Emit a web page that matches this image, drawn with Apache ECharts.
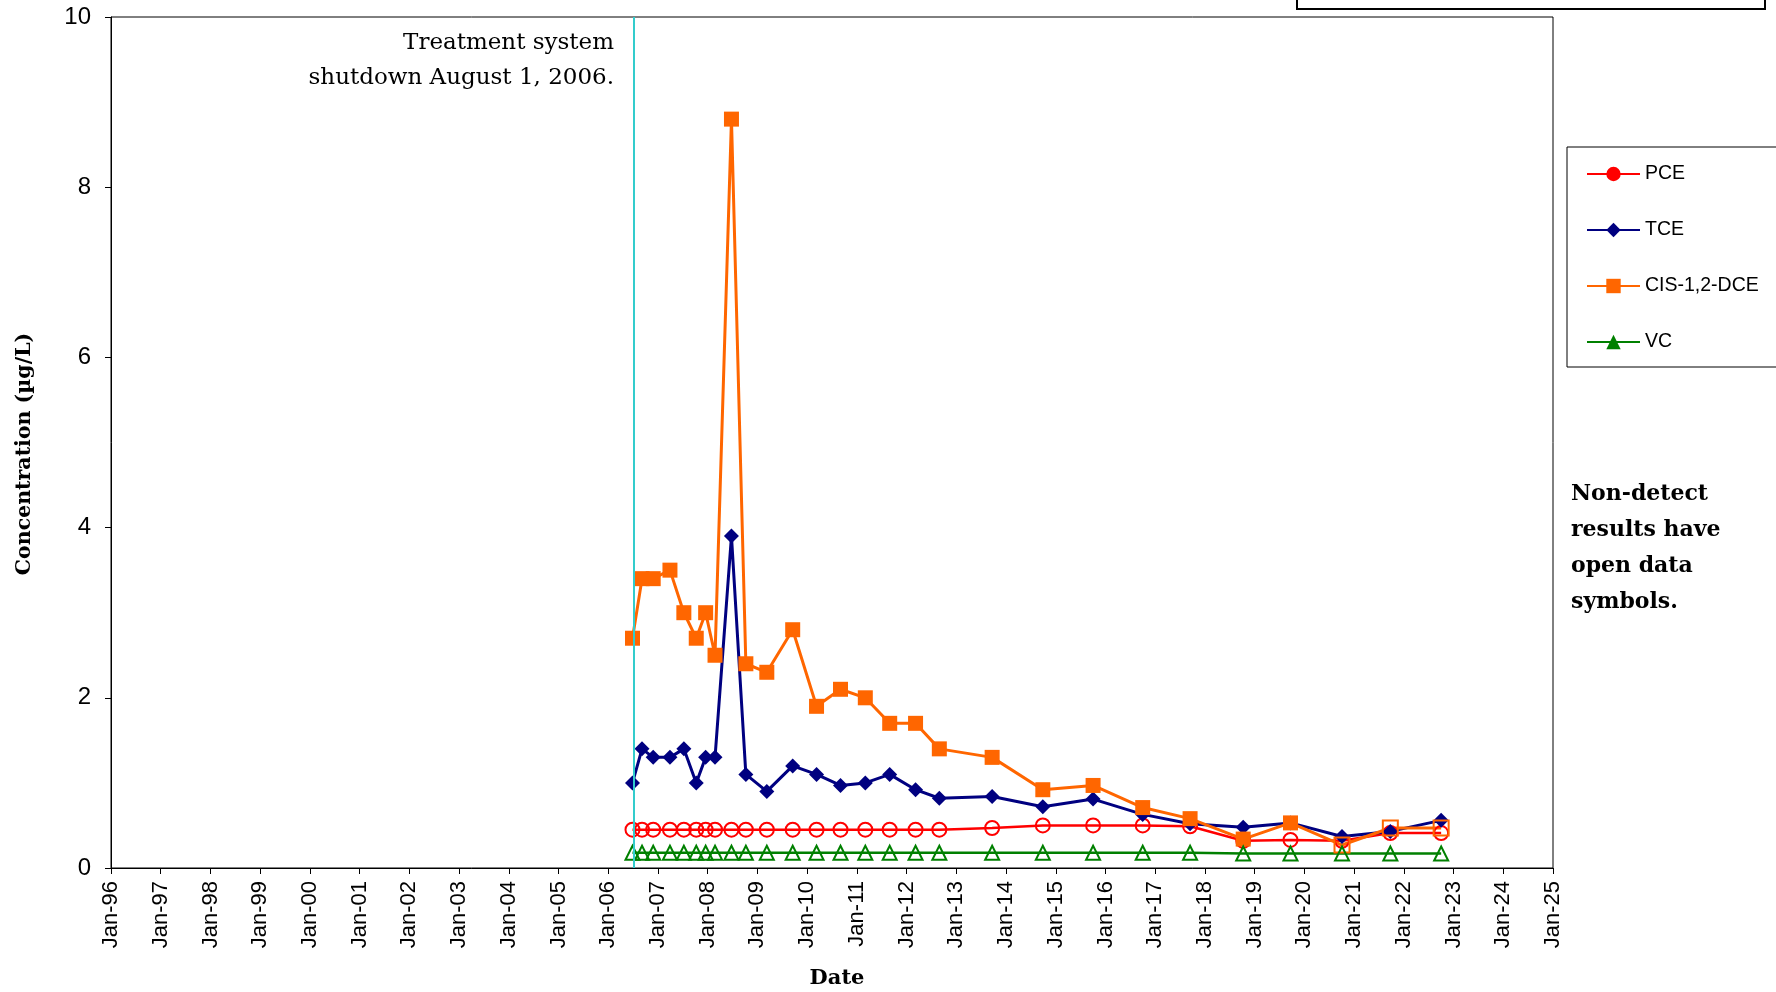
<!DOCTYPE html>
<html>
<head>
<meta charset="utf-8">
<script src="https://cdn.jsdelivr.net/npm/echarts@6/dist/echarts.min.js"></script>
<style>
html,body{margin:0;padding:0;background:#fff;}
#chart{width:1776px;height:992px;}
</style>
</head>
<body>
<div id="chart"></div>
<script>
// ---- data ----
const sampleDates = ['2006-06-28','2006-09-06','2006-11-27','2007-03-30','2007-07-10','2007-10-09','2007-12-17','2008-02-24','2008-06-24','2008-10-08','2009-03-11','2009-09-17','2010-03-11','2010-09-03','2011-03-04','2011-08-30','2012-03-07','2012-08-29','2013-09-21','2014-09-28','2015-10-02','2016-10-01','2017-09-14','2018-10-09','2019-09-21','2020-10-04','2021-09-24','2022-10-02'];
const pce = [0.45,0.45,0.45,0.45,0.45,0.45,0.45,0.45,0.45,0.45,0.45,0.45,0.45,0.45,0.45,0.45,0.45,0.45,0.47,0.50,0.50,0.50,0.49,0.32,0.33,0.32,0.41,0.41];
const tce = [1.0,1.4,1.3,1.3,1.4,1.0,1.3,1.3,3.9,1.1,0.9,1.2,1.1,0.97,1.0,1.1,0.92,0.82,0.84,0.72,0.81,0.63,0.52,0.48,0.53,0.37,0.43,0.56];
const dce = [2.7,3.4,3.4,3.5,3.0,2.7,3.0,2.5,8.8,2.4,2.3,2.8,1.9,2.1,2.0,1.7,1.7,1.4,1.3,0.92,0.97,0.71,0.58,0.34,0.53,0.27,0.47,0.47];
const vc  = [0.18,0.18,0.18,0.18,0.18,0.18,0.18,0.18,0.18,0.18,0.18,0.18,0.18,0.18,0.18,0.18,0.18,0.18,0.18,0.18,0.18,0.18,0.18,0.17,0.17,0.17,0.17,0.17];
// non-detect flags (1 = open symbol)
const pceNonDetect = [1,1,1,1,1,1,1,1,1,1,1,1,1,1,1,1,1,1,1,1,1,1,1,1,1,1,1,1];
const tceNonDetect = [0,0,0,0,0,0,0,0,0,0,0,0,0,0,0,0,0,0,0,0,0,0,0,0,0,0,0,0];
const dceNonDetect = [0,0,0,0,0,0,0,0,0,0,0,0,0,0,0,0,0,0,0,0,0,0,0,0,0,1,1,1];
const vcNonDetect  = [1,1,1,1,1,1,1,1,1,1,1,1,1,1,1,1,1,1,1,1,1,1,1,1,1,1,1,1];
const shutdownDate = '2006-07-10';
const xTickLabels = ['Jan-96','Jan-97','Jan-98','Jan-99','Jan-00','Jan-01','Jan-02','Jan-03','Jan-04','Jan-05','Jan-06','Jan-07','Jan-08','Jan-09','Jan-10','Jan-11','Jan-12','Jan-13','Jan-14','Jan-15','Jan-16','Jan-17','Jan-18','Jan-19','Jan-20','Jan-21','Jan-22','Jan-23','Jan-24','Jan-25'];
const xStartYear = 1996, xEndYear = 2025;
const yMin = 0, yMax = 10, yStep = 2;

function toYear(s) {
  const p = s.split('-').map(Number);
  const t = Date.UTC(p[0], p[1] - 1, p[2]);
  const a = Date.UTC(p[0], 0, 1), b = Date.UTC(p[0] + 1, 0, 1);
  return p[0] + (t - a) / (b - a);
}

function makeSeries(name, vals, nd, color, symbol, size, lw) {
  return {
    name: name,
    type: 'line',
    symbol: symbol,
    symbolSize: size,
    animation: false,
    silent: true,
    lineStyle: { color: color, width: lw },
    itemStyle: { color: color },
    data: vals.map(function (v, i) {
      return {
        value: [toYear(sampleDates[i]), v],
        itemStyle: nd[i]
          ? { color: 'rgba(255,255,255,0)', borderColor: color, borderWidth: 2 }
          : { color: color, borderColor: color, borderWidth: 0 }
      };
    })
  };
}

const chart = echarts.init(document.getElementById('chart'));
const serif = '"DejaVu Serif"';

const pceSeries = makeSeries('PCE', pce, pceNonDetect, '#FF0000', 'circle', 14, 2.5);
pceSeries.markLine = {
  silent: true,
  symbol: 'none',
  label: { show: false },
  lineStyle: { color: '#33CCCC', width: 2, type: 'solid' },
  data: [{ xAxis: toYear(shutdownDate) }]
};

const option = {
  backgroundColor: '#ffffff',
  animation: false,
  grid: {
    left: 111, right: 223, top: 17, bottom: 124,
    show: true, borderColor: '#000', borderWidth: 1,
    containLabel: false, outerBoundsMode: 'none'
  },
  legend: {
    orient: 'vertical',
    left: 1567, top: 147,
    padding: [17, 60, 15, 19],
    itemWidth: 53, itemHeight: 18, itemGap: 36,
    borderColor: '#000', borderWidth: 1,
    backgroundColor: '#fff',
    textStyle: { fontFamily: 'Liberation Sans', fontSize: 19.5, color: '#000' },
    data: ['PCE', 'TCE', 'CIS-1,2-DCE', 'VC']
  },
  xAxis: {
    type: 'value',
    min: xStartYear, max: xEndYear, interval: 1,
    axisLine: { show: true, onZero: false, lineStyle: { color: '#000', width: 1 } },
    axisTick: { show: true, length: 6, lineStyle: { color: '#000' } },
    splitLine: { show: false },
    axisLabel: {
      rotate: 90, margin: 13, color: '#000',
      fontFamily: 'Liberation Sans', fontSize: 22,
      formatter: function (v) { return xTickLabels[Math.round(v - xStartYear)]; }
    }
  },
  yAxis: {
    type: 'value',
    min: yMin, max: yMax, interval: yStep,
    axisLine: { show: true, onZero: false, lineStyle: { color: '#000', width: 1 } },
    axisTick: { show: true, length: 6, lineStyle: { color: '#000' } },
    splitLine: { show: false },
    axisLabel: { margin: 20, color: '#000', fontFamily: 'Liberation Sans', fontSize: 24 }
  },
  series: [
    pceSeries,
    makeSeries('TCE', tce, tceNonDetect, '#000080', 'diamond', 15, 3),
    makeSeries('CIS-1,2-DCE', dce, dceNonDetect, '#FF6600', 'rect', 15, 3),
    makeSeries('VC', vc, vcNonDetect, '#008000', 'triangle', 14, 2.5)
  ],
  graphic: [
    {
      type: 'rect', silent: true,
      shape: { x: 1297, y: -50, width: 468, height: 59 },
      style: { fill: 'none', stroke: '#000', lineWidth: 2 }
    },
    {
      type: 'text', silent: true, x: 614, y: 26,
      style: {
        text: 'Treatment system\nshutdown August 1, 2006.',
        font: '23px ' + serif, fill: '#000',
        align: 'right', verticalAlign: 'top', textAlign: 'right', textVerticalAlign: 'top',
        lineHeight: 35
      }
    },
    {
      type: 'text', silent: true, x: 1571, y: 476,
      style: {
        text: 'Non-detect\nresults have\nopen data\nsymbols.',
        font: 'bold 22px ' + serif, fill: '#000',
        align: 'left', verticalAlign: 'top', textAlign: 'left', textVerticalAlign: 'top',
        lineHeight: 36
      }
    },
    {
      type: 'text', silent: true, x: 25, y: 454, rotation: Math.PI / 2,
      style: {
        text: 'Concentration (µg/L)',
        font: 'bold 20.5px ' + serif, fill: '#000',
        align: 'center', verticalAlign: 'middle', textAlign: 'center', textVerticalAlign: 'middle'
      }
    },
    {
      type: 'text', silent: true, x: 837, y: 979,
      style: {
        text: 'Date',
        font: 'bold 21px ' + serif, fill: '#000',
        align: 'center', verticalAlign: 'middle', textAlign: 'center', textVerticalAlign: 'middle'
      }
    }
  ]
};
chart.setOption(option);
</script>
</body>
</html>
